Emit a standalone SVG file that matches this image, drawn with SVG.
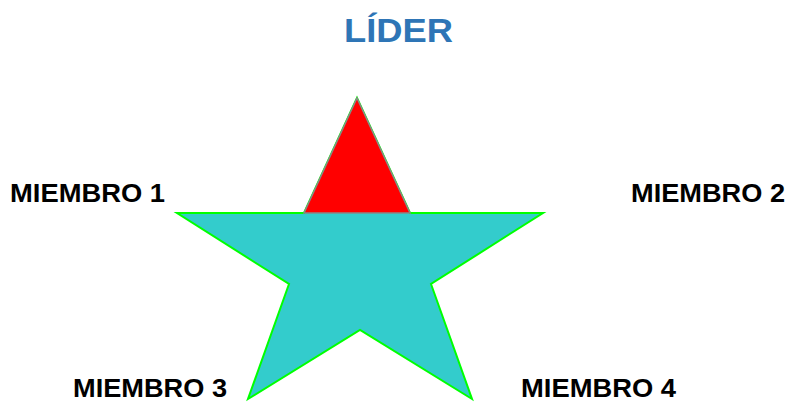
<svg xmlns="http://www.w3.org/2000/svg" width="789" height="403" viewBox="0 0 789 403">
<style>
.lbl{font-family:"Liberation Sans",Arial,sans-serif;font-weight:bold;font-size:26px;fill:#000}
.title{font-family:"Liberation Sans",Arial,sans-serif;font-weight:bold;font-size:33px;fill:#2E75B6}
</style>
<rect width="789" height="403" fill="#fff"/>
<g id="star">
<polygon points="357,98 410,213 543,213 431,284 472,399 360,330 248,399 289,284 177,213 304,213" fill="#33CCCC" stroke="#00FF00" stroke-width="2" stroke-linejoin="miter"/>
</g>
<g id="leader-tip">
<polygon points="357,98 410,213 304,213" fill="#FF0000" stroke="#888888" stroke-width="1.5"/>
</g>
<g id="title"><text class="title" x="344" y="42" textLength="109" lengthAdjust="spacingAndGlyphs">LÍDER</text></g>
<g id="m1"><text class="lbl" x="10" y="202" textLength="155" lengthAdjust="spacingAndGlyphs">MIEMBRO 1</text></g>
<g id="m2"><text class="lbl" x="631" y="202" textLength="154" lengthAdjust="spacingAndGlyphs">MIEMBRO 2</text></g>
<g id="m3"><text class="lbl" x="73" y="397" font-size="25" textLength="154" lengthAdjust="spacingAndGlyphs">MIEMBRO 3</text></g>
<g id="m4"><text class="lbl" x="521" y="397" font-size="25" textLength="155" lengthAdjust="spacingAndGlyphs">MIEMBRO 4</text></g>
<g id="connectors"/>
</svg>
